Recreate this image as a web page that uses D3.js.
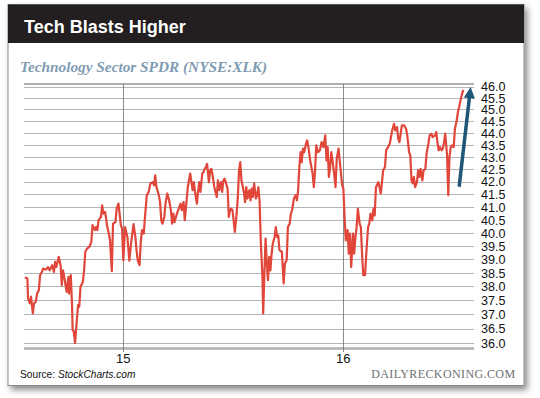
<!DOCTYPE html>
<html>
<head>
<meta charset="utf-8">
<script src="https://cdn.jsdelivr.net/npm/d3@7"></script>
<style>
  body { margin: 0; background: #fff; }
  svg { display: block; }
</style>
</head>
<body>
<svg id="chart" width="540" height="398"></svg>
<script>
// XLK closes (date, price)
const dates = [
  "2014-07-23","2014-07-27","2014-07-28","2014-07-31","2014-08-02","2014-08-05","2014-08-07","2014-08-10","2014-08-12","2014-08-15",
  "2014-08-17","2014-08-20","2014-08-22","2014-08-27","2014-08-30","2014-09-02","2014-09-06","2014-09-09","2014-09-11","2014-09-13",
  "2014-09-17","2014-09-20","2014-09-22","2014-09-24","2014-09-27","2014-09-30","2014-10-03","2014-10-04","2014-10-07","2014-10-09",
  "2014-10-10","2014-10-12","2014-10-14","2014-10-17","2014-10-19","2014-10-21","2014-10-23","2014-10-27","2014-10-29","2014-10-31",
  "2014-11-03","2014-11-07","2014-11-10","2014-11-12","2014-11-16","2014-11-18","2014-11-20","2014-11-22","2014-11-26","2014-11-28",
  "2014-11-30","2014-12-03","2014-12-06","2014-12-09","2014-12-11","2014-12-14","2014-12-16","2014-12-20","2014-12-22","2014-12-25",
  "2014-12-29","2014-12-31","2015-01-02","2015-01-05","2015-01-09","2015-01-12","2015-01-15","2015-01-19","2015-01-22","2015-01-24",
  "2015-01-26","2015-01-29","2015-01-31","2015-02-02","2015-02-05","2015-02-07","2015-02-10","2015-02-13","2015-02-16","2015-02-20",
  "2015-02-22","2015-02-24","2015-02-26","2015-03-02","2015-03-04","2015-03-06","2015-03-08","2015-03-11","2015-03-13","2015-03-16",
  "2015-03-19","2015-03-22","2015-03-24","2015-03-26","2015-03-28","2015-04-01","2015-04-04","2015-04-07","2015-04-09","2015-04-12",
  "2015-04-14","2015-04-17","2015-04-19","2015-04-23","2015-04-25","2015-04-27","2015-04-29","2015-05-01","2015-05-04","2015-05-06",
  "2015-05-08","2015-05-10","2015-05-13","2015-05-15","2015-05-17","2015-05-19","2015-05-21","2015-05-24","2015-05-26","2015-05-28",
  "2015-05-30","2015-06-02","2015-06-04","2015-06-06","2015-06-08","2015-06-10","2015-06-13","2015-06-15","2015-06-17","2015-06-19",
  "2015-06-21","2015-06-24","2015-06-26","2015-06-28","2015-06-30","2015-07-02","2015-07-04","2015-07-06","2015-07-09","2015-07-11",
  "2015-07-13","2015-07-15","2015-07-17","2015-07-21","2015-07-23","2015-07-25","2015-07-27","2015-07-30","2015-08-01","2015-08-03",
  "2015-08-05","2015-08-07","2015-08-10","2015-08-12","2015-08-14","2015-08-16","2015-08-18","2015-08-21","2015-08-22","2015-08-24",
  "2015-08-26","2015-08-28","2015-08-30","2015-09-01","2015-09-03","2015-09-05","2015-09-07","2015-09-10","2015-09-12","2015-09-14",
  "2015-09-16","2015-09-18","2015-09-22","2015-09-25","2015-09-27","2015-09-30","2015-10-02","2015-10-05","2015-10-07","2015-10-09",
  "2015-10-12","2015-10-15","2015-10-17","2015-10-19","2015-10-21","2015-10-23","2015-10-25","2015-10-27","2015-10-29","2015-11-01",
  "2015-11-03","2015-11-05","2015-11-08","2015-11-12","2015-11-14","2015-11-16","2015-11-18","2015-11-21","2015-11-24","2015-11-27",
  "2015-11-30","2015-12-03","2015-12-05","2015-12-07","2015-12-09","2015-12-11","2015-12-13","2015-12-15","2015-12-18","2015-12-20",
  "2015-12-22","2015-12-25","2015-12-28","2015-12-31","2016-01-02","2016-01-04","2016-01-06","2016-01-09","2016-01-11","2016-01-13",
  "2016-01-15","2016-01-18","2016-01-20","2016-01-22","2016-01-24","2016-01-26","2016-01-29","2016-01-31","2016-02-02","2016-02-04",
  "2016-02-07","2016-02-09","2016-02-12","2016-02-14","2016-02-16","2016-02-19","2016-02-21","2016-02-23","2016-02-25","2016-02-29",
  "2016-03-02","2016-03-04","2016-03-06","2016-03-08","2016-03-11","2016-03-13","2016-03-16","2016-03-19","2016-03-23","2016-03-26",
  "2016-03-28","2016-03-31","2016-04-02","2016-04-04","2016-04-06","2016-04-08","2016-04-12","2016-04-15","2016-04-17","2016-04-20",
  "2016-04-22","2016-04-24","2016-04-26","2016-04-28","2016-04-30","2016-05-03","2016-05-05","2016-05-07","2016-05-09","2016-05-12",
  "2016-05-14","2016-05-17","2016-05-19","2016-05-22","2016-05-24","2016-05-27","2016-05-29","2016-06-02","2016-06-04","2016-06-06",
  "2016-06-08","2016-06-10","2016-06-13","2016-06-15","2016-06-17","2016-06-19","2016-06-22","2016-06-24","2016-06-26","2016-06-28",
  "2016-06-30","2016-07-03","2016-07-05","2016-07-08","2016-07-10","2016-07-12","2016-07-15","2016-07-17","2016-07-19"
];
const prices = [
  38.33,38.29,37.57,37.39,37.63,37.03,37.39,37.45,37.74,37.86,
  38.41,38.53,38.65,38.62,38.71,38.59,38.78,38.53,38.90,38.71,
  39.09,38.78,38.05,38.59,38.23,37.80,38.35,37.74,38.41,37.33,
  36.45,36.39,36.00,36.80,37.33,37.27,37.98,38.17,38.59,39.28,
  39.40,39.47,39.65,40.29,40.10,40.22,40.10,40.48,40.61,41.06,
  40.74,40.80,40.29,39.97,39.71,38.56,40.35,40.41,40.93,41.13,
  40.29,40.16,38.96,40.22,39.82,38.95,39.61,40.33,39.84,39.34,
  38.96,38.78,39.65,40.10,39.97,40.61,41.46,41.59,41.93,41.98,
  41.85,42.26,41.78,41.46,41.19,40.48,40.35,40.61,41.13,41.53,
  41.26,40.87,40.35,40.74,40.41,40.74,40.93,41.13,40.87,41.19,
  40.48,41.26,41.78,42.33,41.98,41.66,41.98,41.59,41.13,41.59,
  41.98,41.59,42.33,42.39,42.52,42.59,42.72,41.98,42.46,42.52,
  42.26,41.78,41.59,41.39,42.05,41.66,41.98,41.59,42.05,42.12,
  41.98,41.72,40.61,40.87,40.93,40.87,40.48,40.03,40.74,41.39,
  42.46,42.79,42.05,41.59,41.19,41.78,41.33,41.66,41.26,41.72,
  41.39,41.93,41.33,41.46,41.78,41.26,39.71,38.23,37.03,38.45,
  39.78,38.84,38.23,39.09,38.59,39.21,39.59,39.84,40.22,39.84,
  39.90,39.34,39.28,38.11,38.84,38.96,40.22,40.35,40.74,40.87,
  41.33,41.46,41.26,41.66,42.59,43.20,42.79,43.35,43.20,43.55,
  43.69,43.41,42.86,42.33,41.78,42.39,43.48,43.20,43.28,43.62,
  43.41,43.90,42.86,43.41,42.19,42.59,43.20,42.86,42.26,41.78,
  42.93,43.35,42.59,41.85,41.72,40.61,39.71,40.10,39.21,39.97,
  38.71,39.97,39.21,39.84,40.22,40.93,40.35,40.22,39.21,38.41,
  38.41,39.21,40.22,40.35,40.74,40.48,40.93,40.67,41.78,41.98,
  41.78,41.53,41.98,42.46,42.59,43.28,43.41,43.55,44.11,44.39,
  44.11,44.25,43.76,43.62,43.97,44.32,44.32,44.18,43.90,43.20,
  43.07,42.05,41.93,42.19,41.78,41.98,42.46,42.19,42.52,42.05,
  42.46,42.52,43.14,43.55,43.90,43.97,43.83,43.90,44.04,43.62,
  43.28,43.41,43.28,43.35,43.62,43.97,43.07,41.46,43.00,43.41,
  43.48,43.41,44.18,44.53,44.89,45.11,45.48,45.69,45.85
];
const yTicks = d3.range(36, 46.01, 0.5);
const yearTicks = ["2015-01-01", "2016-01-01"];
const yearLabels = ["15", "16"];
const xDomain = ["2014-07-23", "2016-08-04"];
const arrowFrom = ["2016-07-12", 41.8];
const arrowTo = ["2016-07-30", 45.95];

const parse = d3.timeParse("%Y-%m-%d");
const series = dates.map((d, i) => ({ date: parse(d), value: prices[i] }));

const svg = d3.select("#chart");
const defs = svg.append("defs");

const shadow = defs.append("filter").attr("id", "shadow")
  .attr("x", "-5%").attr("y", "-5%").attr("width", "115%").attr("height", "115%");
shadow.append("feDropShadow")
  .attr("dx", 3).attr("dy", 4).attr("stdDeviation", 3)
  .attr("flood-color", "#000").attr("flood-opacity", 0.45);

defs.append("marker").attr("id", "head")
  .attr("viewBox", "0 0 10 10").attr("refX", 5).attr("refY", 5)
  .attr("markerWidth", 3.2).attr("markerHeight", 3.2)
  .attr("markerUnits", "strokeWidth").attr("orient", "auto")
  .append("path").attr("d", "M0,0 L10,5 L0,10 Z").attr("fill", "#1d5676");

// card
svg.append("rect")
  .attr("x", 8).attr("y", 4.5).attr("width", 516).attr("height", 381)
  .attr("fill", "#fff").attr("stroke", "#8a8a8a").attr("stroke-width", 1)
  .attr("filter", "url(#shadow)");
svg.append("rect")
  .attr("x", 8).attr("y", 4.5).attr("width", 516).attr("height", 38.5)
  .attr("fill", "#231f20");

svg.append("text")
  .attr("x", 24).attr("y", 32.5)
  .attr("font-family", "Liberation Sans, Arial, sans-serif")
  .attr("font-weight", "bold").attr("font-size", 18)
  .attr("fill", "#fff")
  .text("Tech Blasts Higher");

svg.append("text")
  .attr("x", 20).attr("y", 72)
  .attr("font-family", "Liberation Serif, Times New Roman, serif")
  .attr("font-weight", "bold").attr("font-style", "italic").attr("font-size", 15.3)
  .attr("fill", "#7f9bb2")
  .text("Technology Sector SPDR (NYSE:XLK)");

const x = d3.scaleTime().domain(xDomain.map(parse)).range([25, 473]);
const y = d3.scaleLog().domain([36, 46]).range([343, 86.5]);

const plot = svg.append("g");

// horizontal grid
plot.append("g")
  .selectAll("line")
  .data(yTicks)
  .join("line")
  .attr("x1", 24).attr("x2", 474)
  .attr("y1", d => Math.round(y(d)) + 0.5).attr("y2", d => Math.round(y(d)) + 0.5)
  .attr("stroke", "#b4b4b4").attr("stroke-width", 1);

// frame lines top / bottom
plot.append("line").attr("x1", 24).attr("x2", 474).attr("y1", 84).attr("y2", 84)
  .attr("stroke", "#b0b0b0").attr("stroke-width", 2);
plot.append("line").attr("x1", 24).attr("x2", 474).attr("y1", 348.5).attr("y2", 348.5)
  .attr("stroke", "#b0b0b0").attr("stroke-width", 2.5);

// year lines
plot.append("g")
  .selectAll("line")
  .data(yearTicks.map(parse))
  .join("line")
  .attr("x1", d => Math.round(x(d)) + 0.5).attr("x2", d => Math.round(x(d)) + 0.5)
  .attr("y1", 84).attr("y2", 352)
  .attr("stroke", "#6e6e6e").attr("stroke-width", 0.8);

// right axis
const yAxis = d3.axisRight(y).tickValues(yTicks).tickFormat(d3.format(".1f")).tickSize(0).tickPadding(0);
const ya = plot.append("g").attr("transform", "translate(481,0)").call(yAxis);
ya.select(".domain").remove();
ya.selectAll("text")
  .attr("font-family", "Liberation Sans, Arial, sans-serif").attr("font-size", 12.6)
  .attr("fill", "#111").attr("dy", "0.34em");

// bottom axis
const xAxis = d3.axisBottom(x).tickValues(yearTicks.map(parse))
  .tickFormat((d, i) => yearLabels[i]).tickSize(0).tickPadding(0);
const xa = plot.append("g").attr("transform", "translate(0,354)").call(xAxis);
xa.select(".domain").remove();
xa.selectAll("text")
  .attr("font-family", "Liberation Sans, Arial, sans-serif").attr("font-size", 13)
  .attr("fill", "#111").attr("dy", "0.72em");

// price line
const line = d3.line().x(d => x(d.date)).y(d => y(d.value));
plot.append("path")
  .datum(series)
  .attr("d", line)
  .attr("fill", "none")
  .attr("stroke", "#e0463a")
  .attr("stroke-width", 2.2)
  .attr("stroke-linejoin", "round");

// arrow
plot.append("line")
  .attr("x1", x(parse(arrowFrom[0]))).attr("y1", y(arrowFrom[1]))
  .attr("x2", x(parse(arrowTo[0]))).attr("y2", y(arrowTo[1]) + 5)
  .attr("stroke", "#1d5676").attr("stroke-width", 3.5)
  .attr("marker-end", "url(#head)");

// footer
const src = svg.append("text")
  .attr("x", 20).attr("y", 377.5)
  .attr("font-family", "Liberation Sans, Arial, sans-serif").attr("font-size", 10.2)
  .attr("fill", "#111");
src.append("tspan").text("Source: ");
src.append("tspan").attr("font-style", "italic").text("StockCharts.com");

svg.append("text")
  .attr("x", 515.5).attr("y", 378)
  .attr("text-anchor", "end")
  .attr("font-family", "Liberation Serif, Times New Roman, serif").attr("font-size", 12)
  .attr("letter-spacing", 0.4)
  .attr("fill", "#707070")
  .text("DAILYRECKONING.COM");
</script>
</body>
</html>
